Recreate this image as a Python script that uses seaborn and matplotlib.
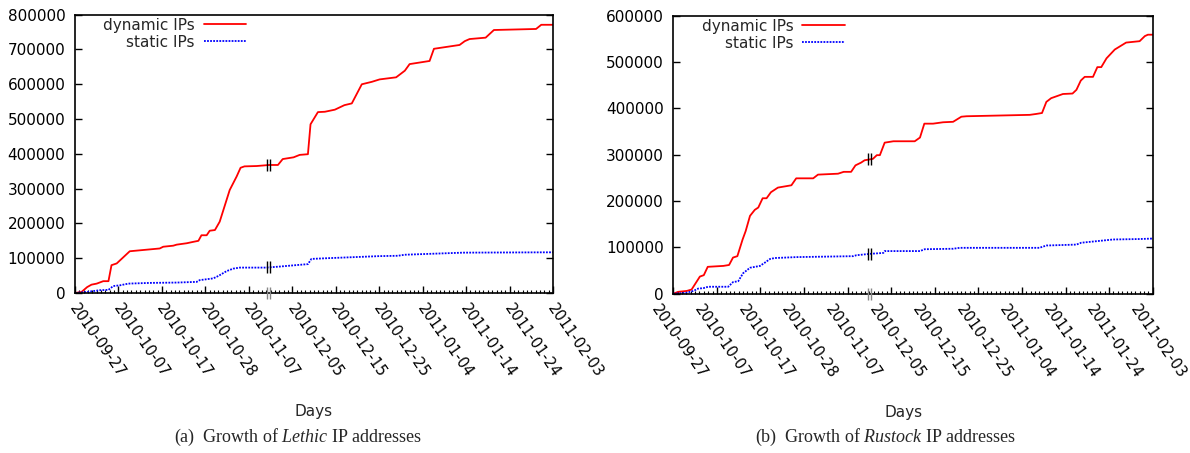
import numpy as np
import pandas as pd
import matplotlib
matplotlib.use("Agg")
import matplotlib.pyplot as plt
import matplotlib.transforms as mtransforms
import seaborn as sns

# ---------------- data (values in thousands of IPs) ----------------
SCALE = 1000
TICK_DAYS = [0, 10, 20, 30, 40, 50, 60, 70, 80, 90, 100, 110]
TICK_LABELS = ["2010-09-27", "2010-10-07", "2010-10-17", "2010-10-28",
               "2010-11-07", "2010-12-05", "2010-12-15", "2010-12-25",
               "2011-01-04", "2011-01-14", "2011-01-24", "2011-02-03"]
SERIES = ["dynamic IPs", "static IPs"]

lethic_dyn_days = [0, 1.5, 2.8, 3.8, 5, 6.5, 7.7, 8.4, 9.6, 12.6, 19.5, 20.3, 22.6, 23.4,
                   25.7, 27.2, 28.4, 29.1, 30.3, 31, 32.2, 33.3, 35.6, 37.2, 38.1, 39,
                   41.8, 44.7, 46.7, 47.8, 50.3, 51.7, 53.6, 54.2, 55.9, 57.5, 59.8, 62,
                   63.7, 66, 68.3, 70.1, 73.9, 75.9, 77, 81.6, 82.6, 88.5, 89.7, 90.8,
                   94.5, 96.4, 106.1, 107.3, 110]
lethic_dyn_vals = [0, 3, 17, 24, 27, 34, 34, 80, 85, 120, 128, 133, 136, 139,
                   143, 147, 150, 166, 166, 179, 181, 205, 296, 335, 360, 364,
                   365, 368, 368, 385, 390, 397, 399, 485, 520, 521, 527, 540,
                   545, 600, 607, 614, 620, 639, 658, 667, 702, 713, 724, 730,
                   734, 756, 759, 771, 771]
lethic_sta_days = [0, 2.7, 5.7, 7.7, 8.8, 10.3, 12.3, 17.2, 23.4, 28, 28.7, 31.8, 33,
                   34.9, 36.4, 37.9, 44, 47.1, 51.7, 53.6, 54.4, 58, 64, 70, 74.3,
                   75.9, 89.3, 110]
lethic_sta_vals = [0, 3, 8, 9, 20, 22, 27, 29, 30, 32, 37, 42, 49,
                   63, 70, 73, 73, 76, 81, 83, 98, 100, 103, 106, 107,
                   110, 116, 117]

rustock_dyn_days = [0, 1.1, 3.1, 4.2, 6.1, 7, 7.9, 11.5, 12.8, 13.7, 14.7, 15.9, 16.6,
                    17.6, 18.7, 19.5, 20.5, 21.4, 22.4, 24, 27.1, 28.2, 32.1, 33.2,
                    37.8, 39.1, 40.8, 41.8, 43.1, 43.9, 45.8, 46.7, 47.4, 48.5, 50.5,
                    55.4, 56.6, 57.6, 59.6, 61.9, 64.2, 66.1, 67.3, 81.8, 83.3, 84.6,
                    85.6, 86.7, 89.4, 91.6, 92.5, 93.5, 94.4, 96.3, 97.3, 98.2, 99.4,
                    101.3, 103.9, 107, 108.2, 108.9, 110]
rustock_dyn_vals = [0, 4, 6, 9, 37, 40, 58, 60, 62, 78, 81, 117, 135,
                    168, 181, 186, 206, 206, 219, 229, 234, 249, 249, 257,
                    259, 263, 263, 277, 283, 288, 291, 299, 299, 326, 329,
                    329, 337, 367, 367, 370, 371, 382, 383, 386, 388, 390,
                    414, 422, 431, 432, 440, 460, 468, 468, 489, 489, 508,
                    527, 542, 545, 556, 559, 559]
rustock_sta_days = [0, 3, 4.6, 5.7, 6.9, 8, 12.6, 13.7, 14.9, 16, 17.6, 19.9, 21, 22.2,
                    23.3, 28.3, 41.3, 42, 45.1, 48.2, 48.5, 56.6, 57.7, 64.2, 65.7, 84,
                    85.6, 92.5, 93.6, 97.8, 100.9, 107, 110]
rustock_sta_vals = [0, 2, 6, 11, 12, 15, 15, 25, 27, 44, 56, 60, 67, 75,
                    77, 79, 81, 83, 86, 88, 92, 92, 96, 97, 99, 99,
                    104, 106, 110, 114, 117, 118, 119]

LETHIC_BREAK = 44.6
RUSTOCK_BREAK = 45.0

# ---------------- style ----------------
sns.set_theme(style="ticks")
plt.rcParams["font.family"] = ["DejaVu Sans"]
plt.rcParams["mathtext.fontset"] = "custom"
plt.rcParams["mathtext.rm"] = "Liberation Serif"
plt.rcParams["mathtext.it"] = "Liberation Serif:italic"

COLORS = {"dynamic IPs": "#ff0000", "static IPs": "#0000ff"}
DASHES = {"dynamic IPs": "", "static IPs": (1, 0.7)}


def build_df(dd, dv, sd, sv):
    a = pd.DataFrame({"day": dd, "ips": np.array(dv, float) * SCALE, "series": SERIES[0]})
    b = pd.DataFrame({"day": sd, "ips": np.array(sv, float) * SCALE, "series": SERIES[1]})
    return pd.concat([a, b], ignore_index=True)


def draw(fig, ax, df, ymax, brk, xlabel_x, label_shift_px):
    sns.lineplot(data=df, x="day", y="ips", hue="series", style="series",
                 palette=COLORS, dashes=DASHES, estimator=None, sort=False,
                 legend=False, linewidth=1.3, ax=ax)
    handles = list(ax.get_lines()[:2])
    ax.set_xlim(0, 110)
    ax.set_ylim(0, ymax)
    ax.set_yticks(np.arange(0, ymax + 1, 100000))
    ax.ticklabel_format(style="plain", axis="y", useOffset=False)
    ax.set_xticks(TICK_DAYS)
    ax.set_xticks(np.arange(0, 111, 1), minor=True)
    ax.tick_params(axis="y", which="major", direction="in", left=True, right=True,
                   length=5, width=1.0, labelsize=11, pad=7, colors="black")
    ax.tick_params(axis="y", which="minor", left=False, right=False)
    ax.tick_params(axis="x", which="major", direction="in", bottom=True, top=False,
                   length=5, width=1.0, pad=6, colors="black")
    ax.tick_params(axis="x", which="minor", direction="in", bottom=True, top=False,
                   length=2.5, width=0.8, colors="black")
    ax.set_xticklabels(TICK_LABELS, rotation=-55, ha="left", va="top",
                       rotation_mode="anchor", fontsize=10.6)
    shift = mtransforms.ScaledTranslation(label_shift_px / 100.0, 0, fig.dpi_scale_trans)
    for lbl in ax.get_xticklabels():
        lbl.set_transform(lbl.get_transform() + shift)
    for sp in ax.spines.values():
        sp.set_visible(True)
        sp.set_color("black")
        sp.set_linewidth(1.2)
    ax.set_ylabel("")
    ax.set_xlabel("Days", fontsize=11)
    ax.xaxis.set_label_coords(xlabel_x, -0.40)
    ax.legend(handles, SERIES, loc="upper right", bbox_to_anchor=(0.365, 1.0),
              frameon=False, markerfirst=False, handlelength=2.8, handletextpad=0.6,
              labelspacing=0.12, borderaxespad=0.0, borderpad=0.2, fontsize=11)
    # axis-break markers
    for name in SERIES:
        sub = df[df["series"] == name]
        yb = np.interp(brk, sub["day"], sub["ips"])
        ax.plot([brk - 0.35, brk + 0.35], [yb, yb], ls="none", marker="|",
                ms=8, mew=1.0, color="black", zorder=5)
    ax.plot([brk - 0.35, brk + 0.35], [0, 0], ls="none", marker="|", ms=8,
            mew=1.0, color="#888888", zorder=5, clip_on=False)


fig = plt.figure(figsize=(11.9, 4.53), dpi=100)
W, H = 1190.0, 453.0
ax1 = fig.add_axes([75 / W, (H - 293) / H, (553 - 75) / W, (293 - 14.7) / H])
ax2 = fig.add_axes([673.3 / W, (H - 293.7) / H, (1152.7 - 673.3) / W, (293.7 - 15.7) / H])

draw(fig, ax1, build_df(lethic_dyn_days, lethic_dyn_vals, lethic_sta_days, lethic_sta_vals),
     800000, LETHIC_BREAK, 0.499, 4)
draw(fig, ax2, build_df(rustock_dyn_days, rustock_dyn_vals, rustock_sta_days, rustock_sta_vals),
     600000, RUSTOCK_BREAK, 0.48, -13)

fig.text(298 / W, 1 - 437 / H, r"(a)  Growth of $\mathit{Lethic}$ IP addresses",
         ha="center", va="center", fontsize=13, family="Liberation Serif")
fig.text(886 / W, 1 - 437 / H, r"(b)  Growth of $\mathit{Rustock}$ IP addresses",
         ha="center", va="center", fontsize=13, family="Liberation Serif")

fig.savefig("out.png", dpi=100)
